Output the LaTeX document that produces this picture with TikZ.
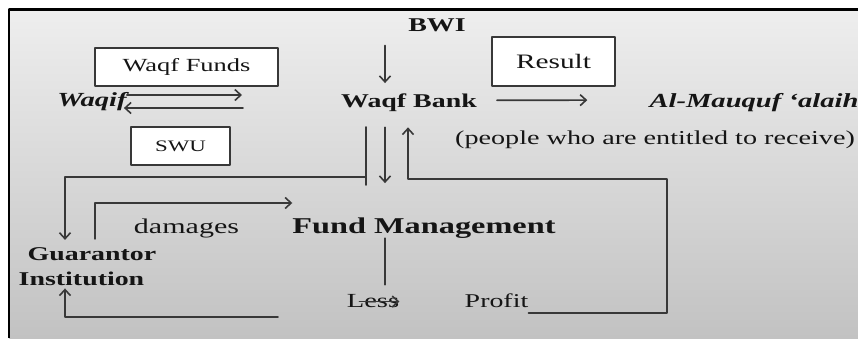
\documentclass[tikz,border=0pt]{standalone}
\usepackage{fontspec}
\setmainfont[FakeStretch=1.43]{Liberation Serif}
\usetikzlibrary{arrows.meta}
\definecolor{txt}{HTML}{151515}
\definecolor{lc}{HTML}{383838}
\definecolor{bgtop}{HTML}{EEEEEE}
\definecolor{bgbot}{HTML}{C2C2C2}
\newcommand\fsz[1]{\fontsize{#1}{#1}\selectfont}

\begin{document}
\begin{tikzpicture}[x={(1pt,0)}, y={(0,-1pt)}, line cap=round, line join=round,
    lbl/.style={inner sep=0pt, anchor=base, text=txt},
    bx/.style={draw=lc, fill=white, line width=1.4pt, inner sep=0pt, text=txt},
    ln/.style={draw=lc, line width=1.7pt},
    arr/.style={ln, -{Straight Barb[length=6pt,width=11pt,line width=1.6pt]}}]
  \useasboundingbox (0,0) rectangle (858,338);
  % frame and shaded panel
  \shade[top color=bgtop, bottom color=bgbot] (9,10) rectangle (858,338);
  \draw[line width=2.4pt, line cap=butt] (9,338) -- (9,9.5) -- (858,9.5);

  % top row
  \node[lbl, font=\fsz{19.5}\bfseries] (bwi) at (437,31) {BWI};
  \node[lbl, font=\fsz{19.5}\bfseries] (bank) at (409,107) {Waqf Bank};
  \node[bx, minimum width=123, minimum height=49, font=\fsz{20.5}] (result) at (553.5,61.5) {Result};
  \node[lbl, font=\fsz{20}\bfseries\itshape] (mauquf) at (754,107) {Al-Mauquf `alaih};
  \node[lbl, font=\fsz{19.7}] (people) at (655,144) {(people who are entitled to receive)};

  % waqif side
  \node[bx, minimum width=183, minimum height=38, font=\fsz{18.5}] (funds) at (186.5,67) {Waqf Funds};
  \node[lbl, font=\fsz{20}\bfseries\itshape] (waqif) at (92,106) {Waqif};
  \node[bx, minimum width=99, minimum height=38, font=\fsz{16}] (swu) at (180.5,146) {SWU};

  % lower part
  \node[lbl, font=\fsz{22.6}\bfseries] (fmg) at (424,233) {Fund Management};
  \node[lbl, font=\fsz{21}] (damages) at (186.5,233) {damages};
  \node[lbl, font=\fsz{19.5}\bfseries] (guar) at (92,260) {Guarantor};
  \node[lbl, font=\fsz{19.5}\bfseries] (inst) at (81.5,285) {Institution};
  \node[lbl, font=\fsz{20}] (less) at (373,307) {Less};
  \node[lbl, font=\fsz{19.5}] (profit) at (496.5,307) {Profit};

  % helper points
  \coordinate (xm) at (385,0);
  \coordinate (fin) at (242,95);
  \coordinate (fout) at (243,108);
  \coordinate (tl) at (366,127);
  \coordinate (gl) at (65,177);
  \coordinate (rc) at (667,313);
  \coordinate (rt) at (408,179);
  \coordinate (dk) at (95,203);
  \coordinate (bl) at (278,317);

  % connectors
  \draw[arr, shorten <=14pt, shorten >=10pt] (bwi.south -| xm) -- (bank.north -| xm);
  \draw[arr, shorten <=20pt, shorten >=62pt] ([yshift=2pt]bank.east) -- ([yshift=2pt]mauquf.west);
  \draw[arr] (waqif.east |- fin) -- (fin);
  \draw[arr, shorten >=-3pt] (fout) -- (waqif.east |- fout);
  \draw[ln] (tl) -- ++(0,58);
  \draw[arr, shorten >=7pt] (tl |- gl) -- (gl) -- (gl |- guar.north);
  \draw[arr, shorten <=16pt, shorten >=34pt] (bank.south -| xm) -- (fmg.north -| xm);
  \draw[arr, shorten >=16pt] (profit.south east |- rc) -- (rc) -- (rc |- rt) -- (rt) -- (rt |- bank.south);
  \draw[arr, shorten <=8pt] (dk |- guar.north) -- (dk) -- (fmg.west |- dk);
  \draw[arr, shorten >=3pt] (bl) -- (bl -| gl) -- (inst.south -| gl);
  \draw[ln, shorten >=9pt] (fmg.south -| xm) -- (less.north -| xm);
  \draw[arr] ([xshift=-40pt,yshift=-1pt]less.east) -- ([yshift=-1pt]less.east);
\end{tikzpicture}
\end{document}
